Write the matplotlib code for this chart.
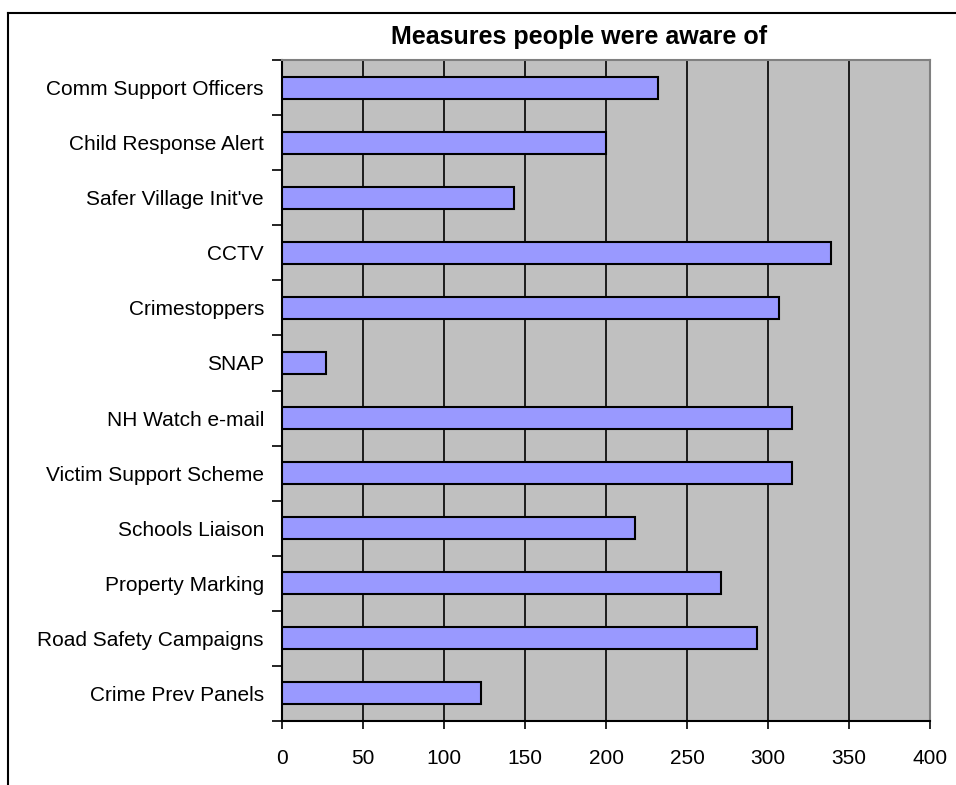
# Horizontal bar chart: measures people were aware of

import numpy as np
import matplotlib
matplotlib.use("Agg")
import matplotlib.pyplot as plt
from matplotlib.lines import Line2D

# Data (bottom to top, as the chart draws them)
categories = ["Crime Prev Panels",
              "Road Safety Campaigns",
              "Property Marking",
              "Schools Liaison",
              "Victim Support Scheme",
              "NH Watch e-mail",
              "SNAP",
              "Crimestoppers",
              "CCTV",
              "Safer Village Init've",
              "Child Response Alert",
              "Comm Support Officers"]
counts = [123, 293, 271, 218, 315, 315, 27, 307, 339, 143, 200, 232]
x_ticks = [0, 50, 100, 150, 200, 250, 300, 350, 400]

plt.rcParams['font.family'] = ['Liberation Sans', 'DejaVu Sans']

fig = plt.figure(figsize=(9.56, 7.85), dpi=100)
ax = fig.add_axes([282/956, 1 - 721/785, (930-282)/956, (721-60)/785])

ax.set_facecolor('#C0C0C0')
y = np.arange(len(categories))

# Vertical gridlines behind the bars
ax.set_axisbelow(True)
ax.xaxis.grid(True, color='black', linewidth=1.2)

ax.barh(y, counts, height=0.4, color='#9999FF', edgecolor='black', linewidth=1.5, zorder=3)

ax.set_xlim(0, 400)
ax.set_ylim(-0.5, len(categories) - 0.5)
ax.set_xticks(x_ticks)
ax.set_xticklabels([str(v) for v in x_ticks], fontsize=15)
ax.set_yticks(y)
ax.set_yticklabels(categories, fontsize=15)
ax.set_yticks(np.arange(len(categories) + 1) - 0.5, minor=True)

ax.tick_params(axis='y', which='major', length=0, pad=13)
ax.tick_params(axis='y', which='minor', length=7, width=1.2, direction='out')
ax.tick_params(axis='x', which='major', length=6, width=1.2, direction='out', pad=14)

for side in ['left', 'bottom']:
    ax.spines[side].set_color('black')
    ax.spines[side].set_linewidth(1.5)
for side in ['top', 'right']:
    ax.spines[side].set_color('#808080')
    ax.spines[side].set_linewidth(1.5)

# Title sits a little left of the plot centre, as in the original
fig.text(579/956, 1 - 37/785, "Measures people were aware of", fontsize=18,
         fontweight='bold', ha='center', va='center')

# Chart area border (cut off on the right and bottom like the original)
fig.add_artist(Line2D([8/956, 1.0], [1 - 13/785, 1 - 13/785], color='black', linewidth=1.5))
fig.add_artist(Line2D([8/956, 8/956], [0.0, 1 - 13/785], color='black', linewidth=1.5))

plt.savefig('out.png', dpi=100)
